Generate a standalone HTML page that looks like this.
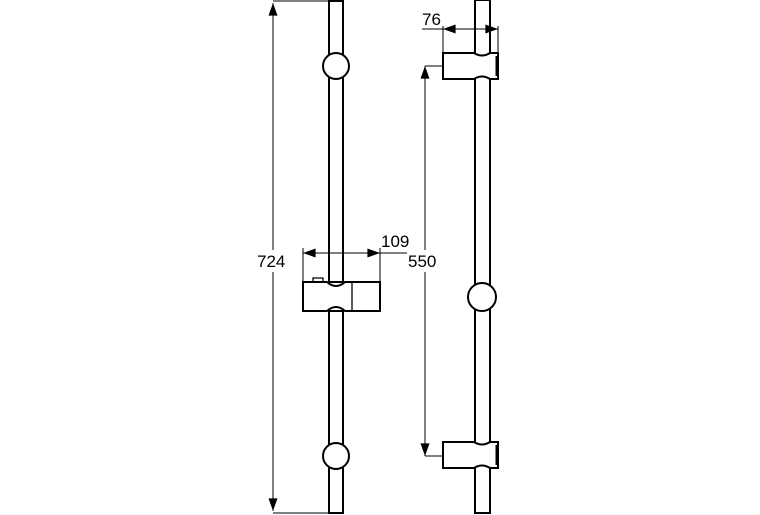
<!DOCTYPE html>
<html><head><style>body{margin:0;background:#fff}svg{display:block}text{font-family:"Liberation Sans",sans-serif;font-size:17px;fill:#000}</style></head>
<body>
<svg width="760" height="515" viewBox="0 0 760 515" xmlns="http://www.w3.org/2000/svg">
<defs>
<marker id="b" viewBox="0 0 14 10" refX="14" refY="5" markerWidth="14" markerHeight="9" markerUnits="userSpaceOnUse" orient="auto-start-reverse"><path d="M0,0 L14,5 L0,10z" fill="#000"/></marker></defs>
<g fill="none" stroke="#000" stroke-width="1.3">
<rect x="329" y="1" width="14" height="281" fill="#fff" stroke-width="2"/>
<rect x="329" y="311" width="14" height="202" fill="#fff" stroke-width="2"/>
<circle cx="336" cy="66" r="13" fill="#fff" stroke-width="2"/>
<circle cx="336" cy="456" r="13" fill="#fff" stroke-width="2"/>
<path d="M303 282 H327 Q336 290 345 282 H380 V311 H345 Q336 303 327 311 H303 Z" fill="#fff" stroke-width="2"/>
<path d="M352 282 V311"/>
<path d="M313 278 h10 v4 h-10z"/>
<path d="M273 3 V511" marker-start="url(#b)" marker-end="url(#b)" stroke-width="1"/>
<path d="M273 1 H330 M273 513 H330" stroke-width="1"/>
<path d="M303 253 H380" marker-start="url(#b)" marker-end="url(#b)" stroke-width="1"/>
<path d="M303 248 V282 M380 248 V282 M380 253 H407" stroke-width="1"/>
<rect x="475" y="0" width="15" height="513" fill="#fff" stroke-width="2"/>
<path d="M443 53 H474 Q482 58 490 53 H498 V79 H490 Q482 74 474 79 H443 Z" fill="#fff" stroke-width="2"/>
<path d="M443 442 H474 Q482 447 490 442 H498 V468 H490 Q482 463 474 468 H443 Z" fill="#fff" stroke-width="2"/>
<path d="M497 56 V76 M497 445 V465" stroke-width="3"/>
<circle cx="482" cy="297" r="14" fill="#fff" stroke-width="2"/>
<path d="M477 283 h10" stroke-width="1"/>
<path d="M443 29 H498" marker-start="url(#b)" marker-end="url(#b)" stroke-width="1"/>
<path d="M422 29 H443 M443 26 V53 M498 26 V53" stroke-width="1"/>
<path d="M425 66 V456" marker-start="url(#b)" marker-end="url(#b)" stroke-width="1"/>
<path d="M425 66 H443 M425 456 H443" stroke-width="1"/>
</g>
<rect x="256" y="250" width="36" height="22" fill="#fff"/>
<text x="257" y="267">724</text>
<rect x="408" y="250" width="36" height="22" fill="#fff"/>
<text x="408" y="267">550</text>
<text x="381" y="247">109</text>
<text x="422" y="25">76</text>
</svg>
</body></html>
